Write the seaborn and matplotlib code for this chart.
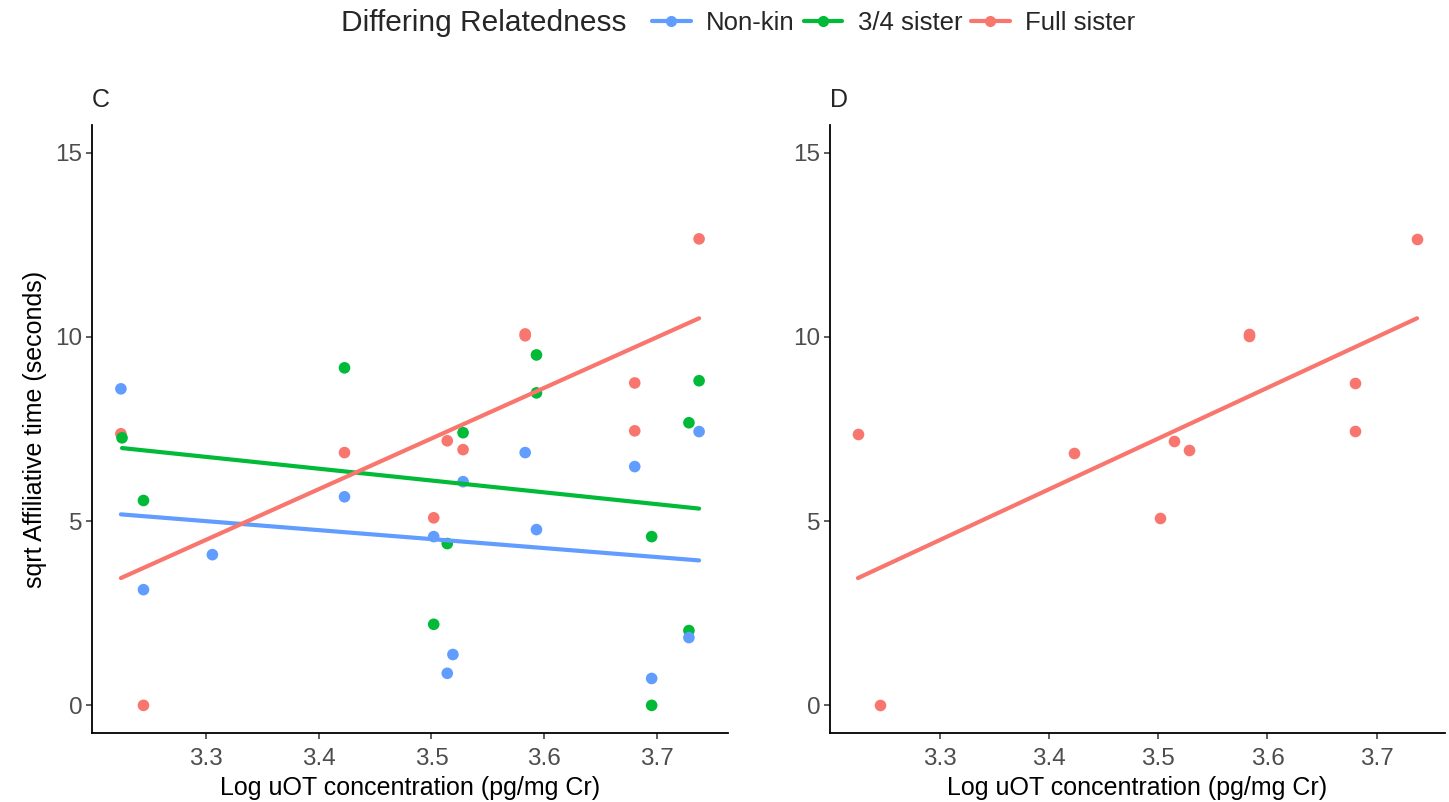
import numpy as np
import pandas as pd
import seaborn as sns
import matplotlib.pyplot as plt
from matplotlib.lines import Line2D

# Group names and colours
groups = ["Non-kin", "3/4 sister", "Full sister"]
palette = {"Non-kin": "#619CFF", "3/4 sister": "#00BA38", "Full sister": "#F8766D"}

# Log uOT concentration and sqrt affiliative time per partner type
nonkin_x = [3.225, 3.245, 3.306, 3.423, 3.502, 3.514, 3.519, 3.528, 3.583, 3.593, 3.680, 3.695, 3.728, 3.737]
nonkin_y = [8.59, 3.14, 4.09, 5.66, 4.58, 0.87, 1.38, 6.07, 6.86, 4.77, 6.48, 0.73, 1.84, 7.43]

three4_x = [3.226, 3.245, 3.423, 3.502, 3.514, 3.528, 3.593, 3.593, 3.695, 3.695, 3.728, 3.728, 3.737]
three4_y = [7.26, 5.56, 9.16, 2.20, 4.39, 7.40, 9.51, 8.48, 4.58, 0.00, 7.67, 2.03, 8.81]

full_x = [3.225, 3.245, 3.423, 3.502, 3.514, 3.528, 3.583, 3.583, 3.680, 3.680, 3.737]
full_y = [7.37, 0.00, 6.86, 5.09, 7.18, 6.94, 10.03, 10.08, 8.75, 7.45, 12.66]

x_ticks = [3.3, 3.4, 3.5, 3.6, 3.7]
y_ticks = [0, 5, 10, 15]

# Rows ordered so full sisters are drawn first and non-kin last
df = pd.concat([
    pd.DataFrame({"uot": full_x, "aff": full_y, "rel": "Full sister"}),
    pd.DataFrame({"uot": three4_x, "aff": three4_y, "rel": "3/4 sister"}),
    pd.DataFrame({"uot": nonkin_x, "aff": nonkin_y, "rel": "Non-kin"}),
], ignore_index=True)
df_full = df[df["rel"] == "Full sister"]

sns.set_style("white")
plt.rcParams["font.family"] = ["Liberation Sans", "DejaVu Sans"]

W, H = 1449, 802
fig = plt.figure(figsize=(W / 100, H / 100), dpi=100)
ax_c = fig.add_axes([92 / W, 69 / H, 636 / W, 608 / H])
ax_d = fig.add_axes([830 / W, 69 / H, 615 / W, 608 / H])

xmin, xmax = min(df["uot"]), max(df["uot"])
xpad = (xmax - xmin) * 0.05


def style(ax, title, ylabel):
    ax.set_xlim(xmin - xpad, xmax + xpad)
    ax.set_ylim(-0.75, 15.75)
    ax.set_xticks(x_ticks)
    ax.set_yticks(y_ticks)
    ax.set_xticklabels([f"{v:.1f}" for v in x_ticks])
    ax.set_yticklabels([str(v) for v in y_ticks])
    for side in ("top", "right"):
        ax.spines[side].set_visible(False)
    for side in ("left", "bottom"):
        ax.spines[side].set_color("black")
        ax.spines[side].set_linewidth(1.3)
    ax.tick_params(axis="both", which="both", length=4, width=1.1, color="#333333",
                   labelsize=17.5, labelcolor="#4D4D4D", pad=3, bottom=True, left=True)
    ax.tick_params(axis="x", pad=7)
    ax.set_xlabel("Log uOT concentration (pg/mg Cr)", fontsize=18, color="black", labelpad=4)
    ax.set_ylabel(ylabel, fontsize=18, color="black", labelpad=6)
    ax.set_title(title, loc="left", fontsize=18, pad=13)
    ax.grid(False)


# Panel C: all three partner types
sns.scatterplot(data=df, x="uot", y="aff", hue="rel", hue_order=groups, palette=palette,
                s=70, linewidth=0, legend=False, ax=ax_c, zorder=2)
for g in groups:
    sub = df[df["rel"] == g]
    sns.regplot(data=sub, x="uot", y="aff", scatter=False, ci=None, color=palette[g],
                line_kws={"lw": 3, "zorder": 3}, ax=ax_c)
style(ax_c, "C", "sqrt Affiliative time (seconds)")

# Panel D: full sisters only
sns.scatterplot(data=df_full, x="uot", y="aff", color=palette["Full sister"],
                s=70, linewidth=0, legend=False, ax=ax_d, zorder=2)
sns.regplot(data=df_full, x="uot", y="aff", scatter=False, ci=None,
            color=palette["Full sister"], line_kws={"lw": 3, "zorder": 3}, ax=ax_d)
style(ax_d, "D", "")

# Legend across the top
handles = [Line2D([0], [0], color=palette[g], lw=3, marker="o", markersize=7) for g in groups]
fig.text(341 / W, 1 - 23 / H, "Differing Relatedness", fontsize=21.5, va="center", ha="left")
fig.legend(handles, groups, loc="center left", bbox_to_anchor=(652 / W, 1 - 23 / H),
           ncol=3, frameon=False, fontsize=18.5, handlelength=1.5, handletextpad=0.6,
           columnspacing=0.35, borderaxespad=0, borderpad=0)

fig.savefig("out.png", dpi=100, facecolor="white")
